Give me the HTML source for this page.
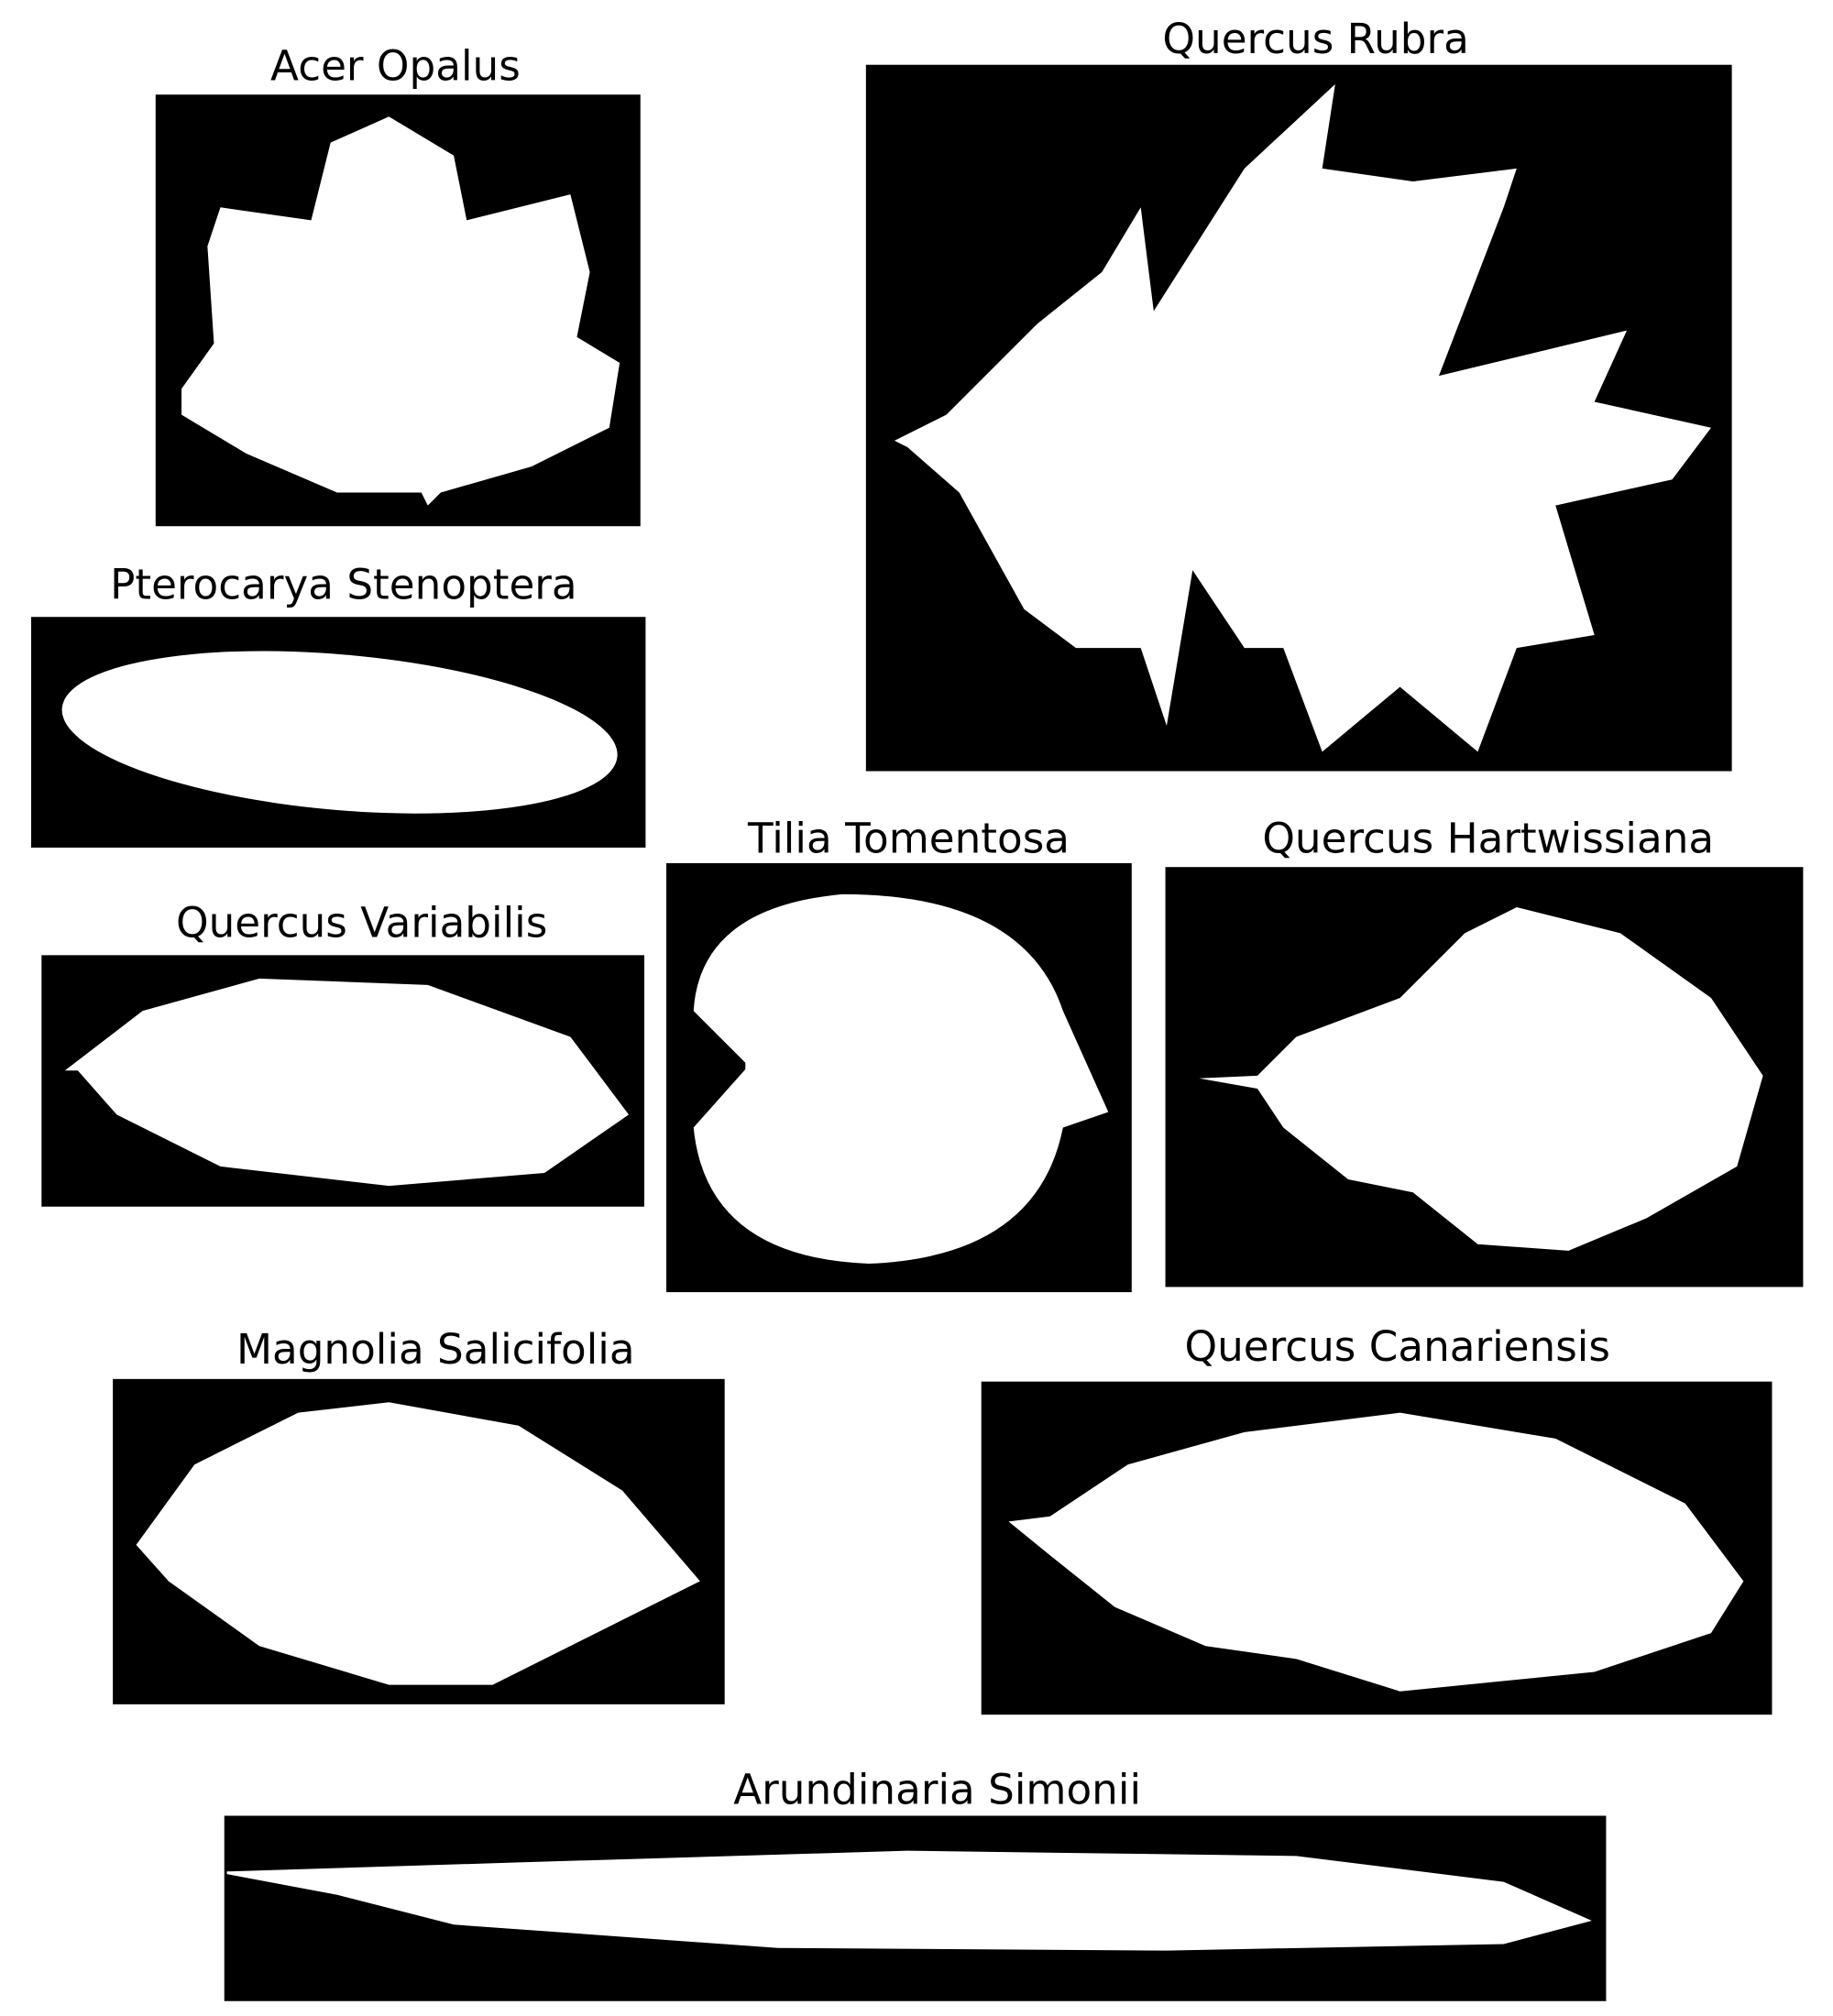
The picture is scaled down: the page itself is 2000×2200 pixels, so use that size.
<!DOCTYPE html>
<html><head><meta charset="utf-8"><style>
html,body{margin:0;padding:0;background:#fff;}
svg{display:block;}
text{font-family:"DejaVu Sans","Liberation Sans",sans-serif;font-size:32px;fill:#000;text-anchor:middle;}
</style></head><body>
<svg width="2000" height="2200" viewBox="0 0 1414 1555.5" xmlns="http://www.w3.org/2000/svg">
<g>
<text x="305" y="62">Acer Opalus</text>
<rect x="120" y="73" width="374" height="333" fill="#000"/>
<polygon fill="#fff" points="140,300 165,265 160,190 170,160 240,170 255,110 300,90 350,120 360,170 440,150 455,210 445,260 478,280 470,330 410,360 340,380 330,390 325,380 260,380 190,350 140,320"/>
</g>
<g>
<text x="1015" y="41">Quercus Rubra</text>
<rect x="668" y="50" width="668" height="545" fill="#000"/>
<polygon fill="#fff" points="690,340 730,320 800,250 850,210 880,160 890,240 960,130 1030,65 1020,130 1090,140 1170,130 1160,160 1110,290 1255,255 1230,310 1320,330 1290,370 1200,390 1230,490 1170,500 1140,580 1080,530 1020,580 990,500 960,500 920,440 900,560 880,500 830,500 790,470 740,380 700,345"/>
</g>
<g>
<text x="265" y="462">Pterocarya Stenoptera</text>
<rect x="24" y="476" width="474" height="178" fill="#000"/>
<ellipse cx="262" cy="565" rx="215" ry="60" fill="#fff" transform="rotate(5 262 565)"/>
</g>
<g>
<text x="279" y="723">Quercus Variabilis</text>
<rect x="32" y="737" width="465" height="194" fill="#000"/>
<polygon fill="#fff" points="50,826 110,780 200,755 330,760 440,800 485,860 420,905 300,915 170,900 90,860 60,826"/>
</g>
<g>
<text x="701" y="658">Tilia Tomentosa</text>
<rect x="514" y="666" width="359" height="331" fill="#000"/>
<path fill="#fff" d="M575,820 L535,780 Q540,700 650,690 Q790,690 820,780 L855,858 L820,870 Q800,970 670,975 Q545,970 535,870 L575,825 Z"/>
</g>
<g>
<text x="1148" y="658">Quercus Hartwissiana</text>
<rect x="899" y="669" width="492" height="324" fill="#000"/>
<polygon fill="#fff" points="925,832 970,830 1000,800 1080,770 1130,720 1170,700 1250,720 1320,770 1360,830 1340,900 1270,940 1210,965 1140,960 1090,920 1040,910 990,870 970,840"/>
</g>
<g>
<text x="336" y="1052">Magnolia Salicifolia</text>
<rect x="87" y="1064" width="472" height="251" fill="#000"/>
<polygon fill="#fff" points="105,1192 150,1130 230,1090 300,1082 400,1100 480,1150 540,1220 480,1250 380,1300 300,1300 200,1270 130,1220"/>
</g>
<g>
<text x="1078" y="1050">Quercus Canariensis</text>
<rect x="757" y="1066" width="610" height="257" fill="#000"/>
<polygon fill="#fff" points="778,1174 810,1170 870,1130 960,1105 1080,1090 1200,1110 1300,1160 1345,1220 1320,1260 1230,1290 1080,1305 1000,1280 930,1270 860,1240 810,1200"/>
</g>
<g>
<text x="723" y="1392">Arundinaria Simonii</text>
<rect x="173" y="1401" width="1066" height="143" fill="#000"/>
<polygon fill="#fff" points="175,1444 400,1437 700,1428 1000,1432 1160,1452 1228,1482 1160,1500 900,1505 600,1503 350,1485 260,1462 175,1446"/>
</g>
</svg>
</body></html>
